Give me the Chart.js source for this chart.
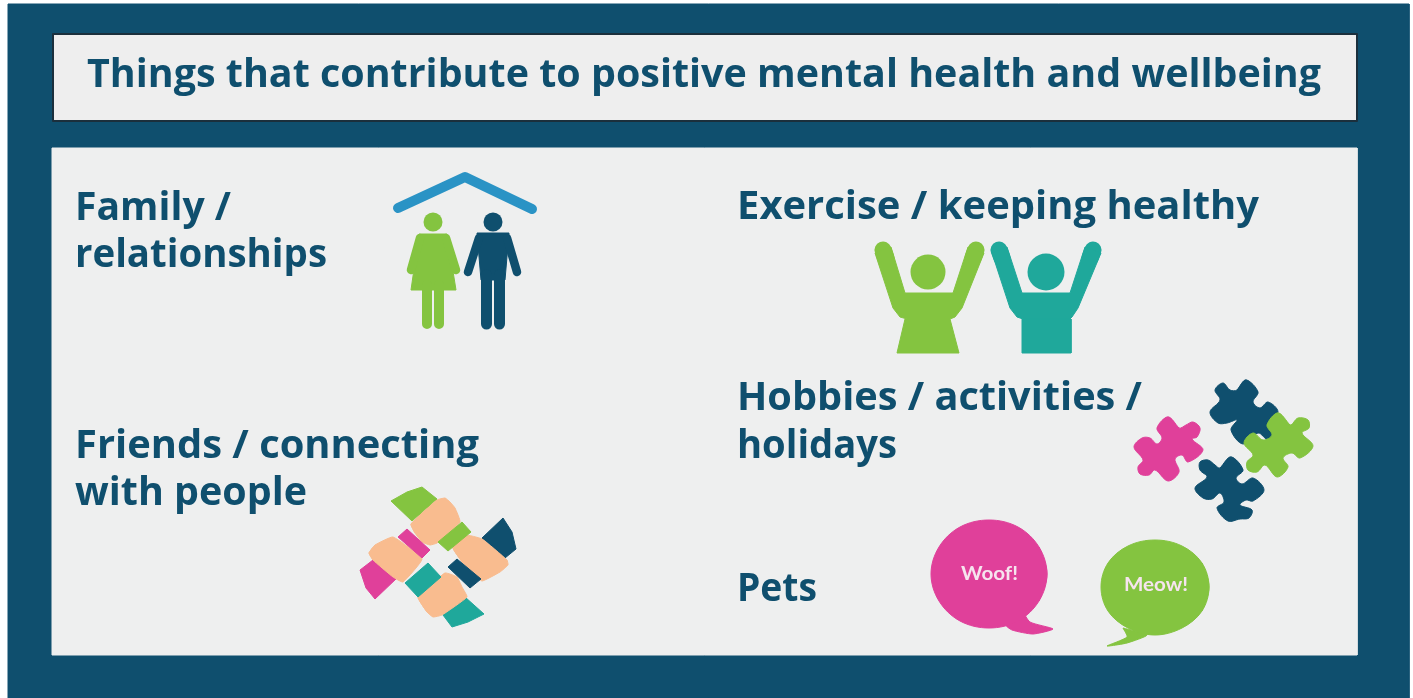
<!DOCTYPE html>
<html>
<head>
<meta charset="utf-8">
<title>Things that contribute to positive mental health and wellbeing</title>
<script src="https://cdn.jsdelivr.net/npm/chart.js@4/dist/chart.umd.min.js"></script>
<style>
  html, body { margin: 0; padding: 0; background: #fff; overflow: hidden; }
  canvas { display: block; }
</style>
</head>
<body>
<canvas id="poster" width="1413" height="698"></canvas>
<script>
// text of the poster
var titleText = ['Things that contribute to positive mental health and wellbeing'];
var headingText = ['Family /', 'relationships', 'Friends / connecting', 'with people',
    'Exercise / keeping healthy', 'Hobbies / activities /', 'holidays', 'Pets'];
var bubbleText = ['Woof!', 'Meow!'];

// outlines, in picture pixels
var framePts = [[8, 4], [1409, 4], [1409, 698], [8, 698], [8, 4]];
var titlePanelPts = [[53, 34], [1357, 34], [1357, 121], [53, 121], [53, 34]];
var bodyPanelPts = [[52, 148], [1357, 148], [1357, 655], [52, 655], [52, 148]];

// family icon
var roofPts = [[398, 208], [465, 177], [532, 209]];
var womanHead = [[433, 222]];
var womanDress = [[419, 234], [447, 234], [456, 290], [411, 290], [419, 234]];
var womanArmL = [[420, 238], [411, 270]];
var womanArmR = [[446, 238], [456, 270]];
var womanLegL = [[427, 285], [427, 324]];
var womanLegR = [[439, 285], [439, 324]];
var manHead = [[493, 222]];
var manTorso = [[477, 233], [509, 233], [505, 280], [481, 280], [477, 233]];
var manArmL = [[479, 238], [468, 272]];
var manArmR = [[507, 238], [517, 272]];
var manLegL = [[486.5, 275], [486.5, 324]];
var manLegR = [[499.5, 275], [499.5, 324]];

// exercise icon
var greenUpper = [[891, 247], [905, 293], [953, 293], [968, 247], [984, 253], [962, 308], [955, 317], [950, 319],
    [907, 319], [900, 317], [893, 308], [875, 253], [891, 247]];
var greenTipL = [[883, 250], [886, 258]];
var greenTipR = [[976, 250], [973, 258]];
var greenSkirt = [[905, 319], [950, 319], [959, 353], [897, 353], [905, 319]];
var greenHead = [[928, 272]];
var tealUpper = [[1007, 247], [1022, 293], [1070, 293], [1085, 247], [1101, 253], [1078, 308], [1072, 317], [1070, 319],
    [1023, 319], [1017, 317], [1010, 308], [992, 253], [1007, 247]];
var tealTipL = [[999, 250], [1002, 258]];
var tealTipR = [[1093, 250], [1090, 258]];
var tealLower = [[1022, 319], [1071, 319], [1071, 353], [1022, 353], [1022, 319]];
var tealHead = [[1046, 272]];

// linked hands icon
var sleeveGreen = [[391, 501], [407, 492], [422, 487], [437, 499], [412, 521], [391, 501]];
var handTop = [[411, 524], [437, 500], [445, 498], [450, 502], [455, 508], [460, 522], [437, 543], [430, 545], [422, 542], [415, 533], [411, 524]];
var bandGreen = [[438, 542], [462, 522], [471, 532], [448, 551], [438, 542]];
var sleeveDark = [[482, 538], [503, 518], [512, 532], [516, 549], [505, 558], [482, 538]];
var handRight = [[453, 548], [465, 535], [482, 539], [507, 560], [508, 565], [500, 572], [482, 581], [472, 572], [463, 563], [453, 548]];
var bandDark = [[448, 567], [457, 559], [481, 579], [470, 588], [448, 567]];
var sleeveTeal = [[443, 615], [465, 597], [484, 614], [468, 622], [452, 627], [443, 615]];
var handBottom = [[418, 597], [445, 573], [457, 577], [462, 587], [467, 597], [442, 615], [433, 617], [427, 612], [418, 597]];
var bandTeal = [[405, 583], [428, 563], [441, 577], [418, 597], [405, 583]];
var sleevePink = [[360, 570], [373, 560], [397, 578], [375, 599], [366, 588], [360, 570]];
var handLeft = [[369, 553], [375, 545], [393, 537], [422, 559], [403, 582], [393, 577], [373, 560], [369, 553]];
var bandPink = [[398, 537], [407, 529], [430, 550], [422, 558], [398, 537]];

// puzzle pieces
var puzzlePink = [[1168, 417], [1179, 428], [1186, 425], [1193, 422], [1200, 428], [1197, 437], [1192, 439], [1203, 450],
    [1188, 462], [1182, 455], [1175, 459], [1179, 472], [1168, 481], [1155, 470], [1149, 475], [1140, 474], [1138, 467],
    [1143, 460], [1134, 447], [1142, 438], [1150, 438], [1157, 444], [1162, 438], [1157, 428], [1168, 417]];
var puzzleDarkTop = [[1246, 380], [1258, 392], [1253, 402], [1260, 408], [1268, 402], [1278, 412], [1267, 425], [1273, 433],
    [1268, 440], [1258, 433], [1243, 444], [1231, 430], [1237, 420], [1227, 423], [1218, 423], [1210, 412], [1220, 400],
    [1215, 390], [1223, 383], [1230, 390], [1237, 390], [1246, 380]];
var puzzleGreen = [[1278, 413], [1290, 425], [1298, 418], [1308, 420], [1309, 428], [1302, 433], [1313, 446], [1300, 458],
    [1292, 453], [1283, 458], [1288, 467], [1277, 477], [1265, 465], [1257, 472], [1248, 470], [1247, 462], [1253, 455],
    [1244, 443], [1253, 433], [1263, 440], [1272, 435], [1267, 425], [1278, 413]];
var puzzleDarkLow = [[1231, 457], [1243, 470], [1236, 478], [1242, 484], [1253, 478], [1264, 490], [1253, 501], [1246, 500],
    [1240, 505], [1252, 510], [1249, 518], [1240, 519], [1228, 521], [1217, 508], [1224, 502], [1220, 493], [1212, 499],
    [1203, 498], [1195, 488], [1207, 477], [1200, 470], [1200, 462], [1208, 460], [1215, 465], [1220, 468], [1231, 457]];

// speech bubbles
var woofBubble = [[1047, 574], [1039, 547], [1018, 527], [989, 520], [960, 527], [939, 547], [931, 574], [939, 601],
    [960, 621], [989, 628], [1018, 621], [1039, 601], [1047, 574]];
var woofTail = [[1022, 610], [1030, 622], [1053, 629], [1033, 634], [1012, 630], [1005, 624], [1022, 610]];
var meowBubble = [[1209, 587], [1202, 563], [1182, 546], [1155, 540], [1128, 546], [1108, 563], [1101, 587], [1108, 611],
    [1128, 628], [1155, 635], [1182, 628], [1202, 611], [1209, 587]];
var meowTail = [[1123, 628], [1127, 637], [1107, 646], [1127, 643], [1147, 635], [1123, 628]];

// placement of the text: left x, baseline y, width it spans
var titlePlace = [[87, 87, 1234]];
var headingPlace = [[75, 220, 156], [75, 267, 252], [75, 458, 404], [75, 505, 232],
    [737, 219, 522], [737, 410, 405], [737, 458, 160], [737, 601, 80]];
var bubblePlace = [[961, 580, 57], [1124, 591, 64]];

var navy = '#0f4f6e', paper = '#eeefef', green = '#84c440', teal = '#1fa89b', pink = '#e0409a', skin = '#f9bc8f', blue = '#2a93c5';

function toPoints(pts) {
    return pts.map(function (p) { return { x: p[0], y: p[1] }; });
}

// filled outline
function shape(pts, color, tension) {
    return { data: toPoints(pts), showLine: true, fill: 'shape', backgroundColor: color, borderColor: color,
        borderWidth: 1, pointRadius: 0, tension: tension || 0 };
}

// smooth closed outline: runs past the start so the seam has no corner
function blob(pts, color, tension) {
    return shape(pts.slice(-2, -1).concat(pts, [pts[1]]), color, tension);
}

// thick stroke with round ends, used for limbs and the roof
function limb(pts, color, width) {
    return { data: toPoints(pts), showLine: true, fill: false, borderColor: color, borderWidth: width,
        borderCapStyle: 'round', borderJoinStyle: 'round', pointRadius: 0 };
}

function dot(pts, color, radius) {
    return { data: toPoints(pts), showLine: false, pointRadius: radius, pointBorderWidth: 0, pointBackgroundColor: color };
}

// listed in paint order, back to front
var layers = [
    shape(framePts, navy),
    shape(titlePanelPts, '#eeeeee'),
    limb(titlePanelPts, '#1b2f3c', 2),
    shape(bodyPanelPts, paper),

    limb(roofPts, blue, 10),
    dot(womanHead, green, 9.5),
    shape(womanDress, green),
    limb(womanArmL, green, 8.5), limb(womanArmR, green, 8.5),
    limb(womanLegL, green, 10), limb(womanLegR, green, 10),
    dot(manHead, navy, 9.5),
    shape(manTorso, navy),
    limb(manArmL, navy, 8.5), limb(manArmR, navy, 8.5),
    limb(manLegL, navy, 11), limb(manLegR, navy, 11),

    limb(greenTipL, green, 17), limb(greenTipR, green, 17),
    shape(greenUpper, green), shape(greenSkirt, green), dot(greenHead, green, 17.5),
    limb(tealTipL, teal, 17), limb(tealTipR, teal, 17),
    shape(tealUpper, teal), shape(tealLower, teal), dot(tealHead, teal, 18.5),

    shape(sleeveGreen, green), shape(sleeveDark, navy), shape(sleeveTeal, teal), shape(sleevePink, pink),
    blob(handBottom, skin, 0.12), blob(handRight, skin, 0.12), blob(handLeft, skin, 0.12), blob(handTop, skin, 0.12),
    shape(bandGreen, green), shape(bandDark, navy), shape(bandTeal, teal), shape(bandPink, pink),

    blob(puzzlePink, pink, 0.35), blob(puzzleDarkTop, navy, 0.35),
    blob(puzzleGreen, green, 0.35), blob(puzzleDarkLow, navy, 0.35),

    shape(woofTail, pink, 0.2), blob(woofBubble, pink, 0.35),
    shape(meowTail, green, 0.2), blob(meowBubble, green, 0.35)
];

// canvas text squeezed to the width measured on the picture
function putText(chart, text, place, font, color) {
    var ctx = chart.ctx;
    var left = chart.scales.x.getPixelForValue(place[0]);
    var base = chart.scales.y.getPixelForValue(place[1]);
    ctx.save();
    ctx.font = font;
    ctx.fillStyle = color;
    ctx.textAlign = 'left';
    ctx.textBaseline = 'alphabetic';
    ctx.translate(left, base);
    ctx.scale(place[2] / ctx.measureText(text).width, 1);
    ctx.fillText(text, 0, 0);
    ctx.restore();
}

var posterText = {
    id: 'posterText',
    afterDraw: function (chart) {
        titleText.forEach(function (t, i) {
            putText(chart, t, titlePlace[i], 'bold 39px "Open Sans"', navy);
        });
        headingText.forEach(function (t, i) {
            putText(chart, t, headingPlace[i], 'bold 39px "Open Sans"', navy);
        });
        bubbleText.forEach(function (t, i) {
            putText(chart, t, bubblePlace[i], 'bold 18px Lato', '#f6e4ee');
        });
    }
};

new Chart(document.getElementById('poster').getContext('2d'), {
    type: 'scatter',
    // chart.js paints the first dataset last, so flip the list
    data: { datasets: layers.slice().reverse() },
    options: {
        responsive: false,
        animation: false,
        layout: { padding: 0, autoPadding: false },
        plugins: { legend: { display: false }, tooltip: { enabled: false }, title: { display: false } },
        scales: {
            x: { type: 'linear', display: false, min: 0, max: 1413 },
            y: { type: 'linear', display: false, min: 0, max: 698, reverse: true }
        }
    },
    plugins: [posterText]
});
</script>
</body>
</html>
